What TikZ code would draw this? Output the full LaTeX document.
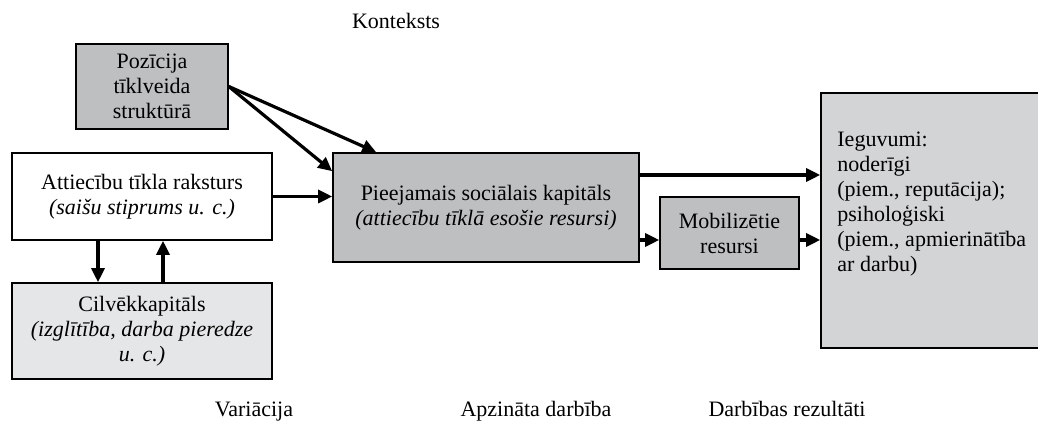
\documentclass[tikz,border=0pt]{standalone}
\usepackage{fontspec}
\setmainfont{Liberation Serif}
\usetikzlibrary{arrows.meta}
\definecolor{boxgrey}{RGB}{190,191,193}
\definecolor{outgrey}{RGB}{211,212,214}
\definecolor{capgrey}{RGB}{229,230,231}

\begin{document}
\begin{tikzpicture}[x=0.5pt,y=-0.5pt,
		box/.style={draw, line width=0.8pt, align=center, inner sep=0pt, font=\fontsize{11}{12.5}\selectfont},
		arr/.style={-{Triangle[length=7pt,width=6.5pt]}, line width=1.6pt},
		lbl/.style={font=\fontsize{11}{12.5}\selectfont}]
		\useasboundingbox (0,0) rectangle (1038,421);

		\node[box, fill=boxgrey, minimum width=76pt, minimum height=42.5pt] (poz) at (152,86.5) {Pozīcija\\tīklveida\\struktūrā};
		\node[box, fill=white, minimum width=130pt, minimum height=43.5pt] (att) at (142,196.5) {Attiecību tīkla raksturs\\\textit{(saišu stiprums u. c.)}};
		\node[box, fill=capgrey, minimum width=130pt, minimum height=48pt] (cil) at (142,331) {Cilvēkkapitāls\\\textit{(izglītība, darba pieredze}\\\textit{u. c.)}};
		\node[box, fill=boxgrey, minimum width=153pt, minimum height=54.5pt] (pie) at (486,207.5) {Pieejamais sociālais kapitāls\\\textit{(attiecību tīklā esošie resursi)}};
		\node[box, fill=boxgrey, minimum width=69.5pt, minimum height=36pt] (mob) at (729.5,233) {Mobilizētie\\resursi};
		\node[box, fill=outgrey, minimum width=112pt, minimum height=127.5pt] (ieg) at (933,220.5) {};

		\node[lbl, anchor=north west, align=left, inner sep=0pt] (iegtxt) at (837,132) {Ieguvumi:\\noderīgi\\(piem., reputācija);\\psiholoģiski\\(piem., apmierinātība\\ar darbu)};

		\coordinate (pieup) at ([yshift=16.25pt]pie.east);
		\coordinate (pielo) at ([yshift=-16.25pt]pie.east);

		\draw[arr] (poz.east) -- ([xshift=22pt]pie.north west);
		\draw[arr] (poz.east) -- ([yshift=-9.5pt]pie.north west);
		\draw[arr] (att.east) -- (pie.west |- att.east);
		\draw[arr] ([xshift=-22pt]att.south) -- ([xshift=-22pt]cil.north);
		\draw[arr] ([xshift=10.5pt]cil.north) -- ([xshift=10.5pt]att.south);
		\draw[arr] (pieup) -- (ieg.west |- pieup);
		\draw[arr] (pielo) -- (mob.west |- pielo);
		\draw[arr] (mob.east |- pielo) -- (ieg.west |- pielo);

		\node[lbl, anchor=base] (kont) at (396,29) {Konteksts};
		\node[lbl, anchor=base] (var) at (254,417) {Variācija};
		\node[lbl, anchor=base] (apz) at (536,417) {Apzināta darbība};
		\node[lbl, anchor=base] (rez) at (787,417) {Darbības rezultāti};
	\end{tikzpicture}
\end{document}
